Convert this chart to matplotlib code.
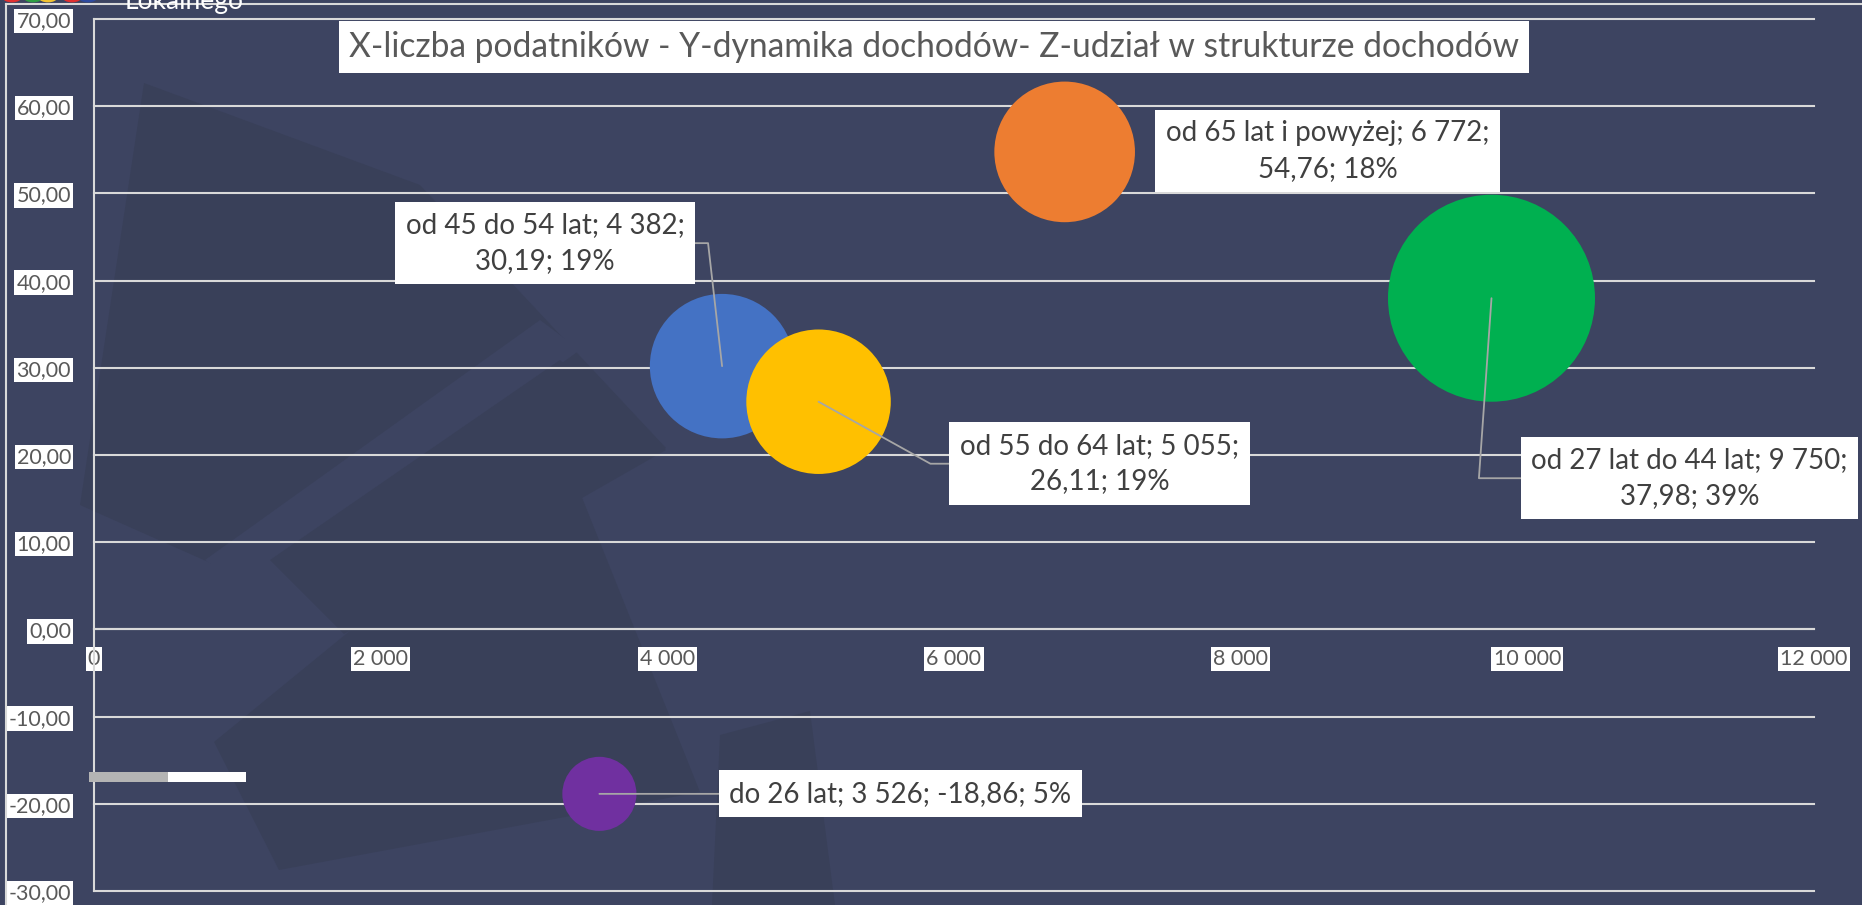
import matplotlib.pyplot as plt
from matplotlib.patches import Polygon, Rectangle, Circle
from matplotlib.lines import Line2D

plt.rcParams['font.family'] = ['Lato', 'DejaVu Sans']

# data
groups = ['do 26 lat', 'od 27 lat do 44 lat', 'od 45 do 54 lat',
          'od 55 do 64 lat', 'od 65 lat i powyżej']
taxpayers = [3526, 9750, 4382, 5055, 6772]
income_growth = [-18.86, 37.98, 30.19, 26.11, 54.76]
income_share = [5, 39, 19, 19, 18]
x_ticks = [0, 2000, 4000, 6000, 8000, 10000, 12000]
y_ticks = [-30, -20, -10, 0, 10, 20, 30, 40, 50, 60, 70]
title = 'X-liczba podatników - Y-dynamika dochodów- Z-udział w strukturze dochodów'

# styling
colors = ['#7030A0', '#00B050', '#4472C4', '#FFC000', '#ED7D31']
draw_order = [1, 4, 2, 3, 0]
two_lines = [False, True, True, True, True]
# label box offsets from bubble centre (pixels, y up) and leader styles
label_offsets = [(301, 0), (198, -180), (-177, 123), (281, -62), (263, 1)]
leaders = ['arc3,rad=0', 'angle,angleA=0,angleB=86,rad=0',
           'angle,angleA=0,angleB=96.5,rad=0', 'angle,angleA=0,angleB=-29,rad=0', None]

W, H = 1862, 905
BG = '#3D4461'
DARK = '#394059'
GRID = '#D9D9D9'


def fmt_int(v):
    return f'{v:,}'.replace(',', ' ')


def fmt_dec(v):
    return f'{v:.2f}'.replace('.', ',')


def px(pts):
    return [(x / W, 1 - y / H) for x, y in pts]


fig = plt.figure(figsize=(W / 100, H / 100), dpi=100, facecolor=BG)

# faint background shapes of the slide
shapes = [
    ([(144, 83), (420, 185), (666, 448), (590, 488), (215, 565), (80, 505)], DARK),
    ([(205, 560), (540, 320), (580, 350), (245, 590)], BG),
    ([(270, 560), (560, 360), (666, 450), (344, 634)], DARK),
    ([(214, 742), (565, 455), (700, 792), (279, 870)], DARK),
    ([(720, 735), (810, 711), (835, 905), (712, 905)], DARK),
]
for pts, c in shapes:
    fig.add_artist(Polygon(px(pts), closed=True, transform=fig.transFigure,
                           facecolor=c, edgecolor='none', zorder=0))

# chart frame
fig.add_artist(Line2D([6 / W, 6 / W], [0, 1 - 4 / H], transform=fig.transFigure, color=GRID, lw=1.5))
fig.add_artist(Line2D([6 / W, 1], [1 - 4 / H, 1 - 4 / H], transform=fig.transFigure, color=GRID, lw=1.5))

# clipped slide header
fig.text(125 / W, 1 - 9 / H, 'Lokalnego', color='white', fontsize=19, va='baseline', ha='left')
for cx, c in [(12, '#E03030'), (33, '#2E9E44'), (48, '#F2C230'), (72, '#E03030'), (88, '#2E4A9E')]:
    fig.add_artist(Circle((cx / W, 1 + 2 / H), 9 / W, transform=fig.transFigure,
                          facecolor=c, edgecolor='none'))

ax = fig.add_axes([94 / W, 1 - 891 / H, (1814 - 94) / W, (891 - 19) / H])
ax.set_facecolor('none')
ax.set_xlim(0, 12000)
ax.set_ylim(-30, 70)

for sp in ['top', 'right']:
    ax.spines[sp].set_visible(False)
ax.spines['bottom'].set_position(('data', 0))
ax.spines['left'].set_position(('data', 0))
for sp in ['bottom', 'left']:
    ax.spines[sp].set_color(GRID)
    ax.spines[sp].set_linewidth(1.5)

ax.yaxis.grid(True, color=GRID, lw=1.5)
ax.set_axisbelow(True)
for gl in ax.get_ygridlines():
    gl.set_clip_on(False)

ax.set_xticks(x_ticks, [fmt_int(v) for v in x_ticks])
ax.set_yticks(y_ticks, [fmt_dec(v) for v in y_ticks])
ax.tick_params(axis='x', length=0, pad=14, labelsize=15.5, labelcolor='#595959')
ax.tick_params(axis='y', length=0, pad=16.5, labelsize=15.5, labelcolor='#595959')
for t in ax.get_xticklabels() + ax.get_yticklabels():
    t.set_bbox(dict(facecolor='white', edgecolor='none', pad=1.5))

# bubbles: area proportional to share, largest (39%) ~103 px radius
r_max_pt = 103.5 * 0.72
sizes = [(2 * r_max_pt) ** 2 * s / max(income_share) for s in income_share]
for i in draw_order:
    ax.scatter(taxpayers[i], income_growth[i], s=sizes[i], color=colors[i],
               edgecolors='none', zorder=3)

for i in range(len(groups)):
    sep = '\n' if two_lines[i] else ' '
    label = (f'{groups[i]}; {fmt_int(taxpayers[i])};{sep}'
             f'{fmt_dec(income_growth[i])}; {income_share[i]}%')
    dx, dy = label_offsets[i]
    arrow = None
    if leaders[i]:
        arrow = dict(arrowstyle='-', color='#A6A6A6', lw=1.3,
                     connectionstyle=leaders[i], shrinkA=0, shrinkB=0)
    ax.annotate(label, (taxpayers[i], income_growth[i]),
                xytext=(dx * 0.72, dy * 0.72), textcoords='offset points',
                ha='center', va='center', ma='center', fontsize=20, color='#404040',
                linespacing=1.45, zorder=5, arrowprops=arrow,
                bbox=dict(boxstyle='square,pad=0.38', facecolor='white', edgecolor='none'))

# title
fig.text(934 / W, 1 - 47 / H, title, ha='center', va='center', fontsize=24.2, color='#595959',
         bbox=dict(boxstyle='square,pad=0.3', facecolor='white', edgecolor='none'))

# stray legend bar
fig.add_artist(Rectangle((89 / W, 1 - 782 / H), 79 / W, 10 / H, transform=fig.transFigure,
                         facecolor='#B4B4B4', edgecolor='none', zorder=6))
fig.add_artist(Rectangle((168 / W, 1 - 782 / H), 78 / W, 10 / H, transform=fig.transFigure,
                         facecolor='white', edgecolor='none', zorder=6))

fig.savefig('out.png', dpi=100, facecolor=BG)
